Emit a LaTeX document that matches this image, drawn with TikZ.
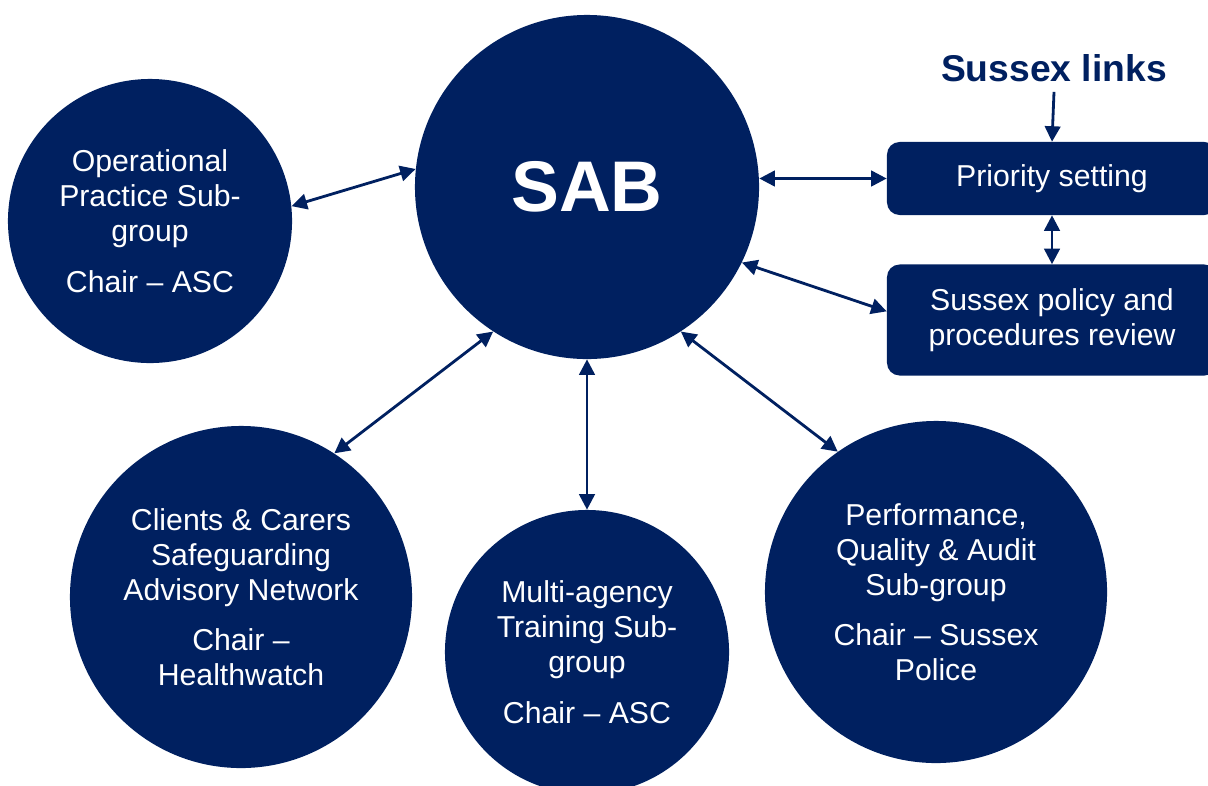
\documentclass[tikz,border=0pt]{standalone}
\usepackage{fontspec}
\setmainfont{Liberation Sans}
\usetikzlibrary{arrows.meta, positioning}
\definecolor{sabblue}{HTML}{002060}

\begin{document}
\begin{tikzpicture}
  [x=0.025cm, y=-0.025cm,
   board/.style={circle, minimum size=8.6cm, inner sep=0pt, fill=sabblue,
                 text=white, align=center},
   bigsub/.style={circle, minimum size=8.55cm, inner sep=0pt, fill=sabblue,
                  text=white, align=center,
                  font=\fontsize{21.5}{24.9}\selectfont},
   smallsub/.style={circle, minimum size=7.1cm, inner sep=0pt, fill=sabblue,
                    text=white, align=center,
                    font=\fontsize{21.5}{24.9}\selectfont},
   link/.style={rectangle, rounded corners=9pt, fill=sabblue, text=white,
                minimum width=8.25cm, align=center,
                font=\fontsize{21.5}{24.9}\selectfont},
   duo/.style={{Triangle[length=11pt,width=11pt]}-{Triangle[length=11pt,width=11pt]},
               line width=2pt, draw=sabblue},
   post/.style={-{Triangle[length=11pt,width=11pt]}, line width=2pt, draw=sabblue}]

  \useasboundingbox (0,0) rectangle (1208,785);

  % Circulos
  \node (sab) at (587,187) [board]
      {\fontsize{51}{60}\selectfont\bfseries SAB};
  \node (operational) at (150,221) [smallsub]
      {Operational\\Practice Sub-\\group\\[11pt]Chair – ASC};
  \node (clients) at (241,597) [bigsub]
      {Clients \& Carers\\Safeguarding\\Advisory Network\\[11pt]Chair –\\Healthwatch};
  \node (training) at (587,652) [smallsub]
      {Multi-agency\\Training Sub-\\group\\[11pt]Chair – ASC};
  \node (performance) at (936,592) [bigsub]
      {Performance,\\Quality \& Audit\\Sub-group\\[11pt]Chair – Sussex\\Police};

  % Sussex links
  \node (links) at (1054,68) [inner sep=7pt, text=sabblue,
      font=\fontsize{26.5}{30}\selectfont\bfseries] {Sussex links};
  \node (priority) at (1052,178.5) [link, minimum height=1.825cm]
      {Priority setting};
  \node (policy) at (1052,320) [link, minimum height=2.775cm]
      {Sussex policy and\\procedures review};

  % Ligacoes
  \draw [duo] (operational.6) -- (sab.174);
  \draw [duo] (sab.east |- priority.west) -- (priority.west);
  \draw [duo] (sab.-26) -- (policy.177);
  \draw [duo] (priority.south) -- (policy.north);
  \draw [post] (links.south) -- (priority.north);
  \draw [duo] (sab.237) -- (clients.57);
  \draw [duo] (sab.south) -- (training.north);
  \draw [duo] (sab.-57) -- (performance.125);

\end{tikzpicture}
\end{document}
